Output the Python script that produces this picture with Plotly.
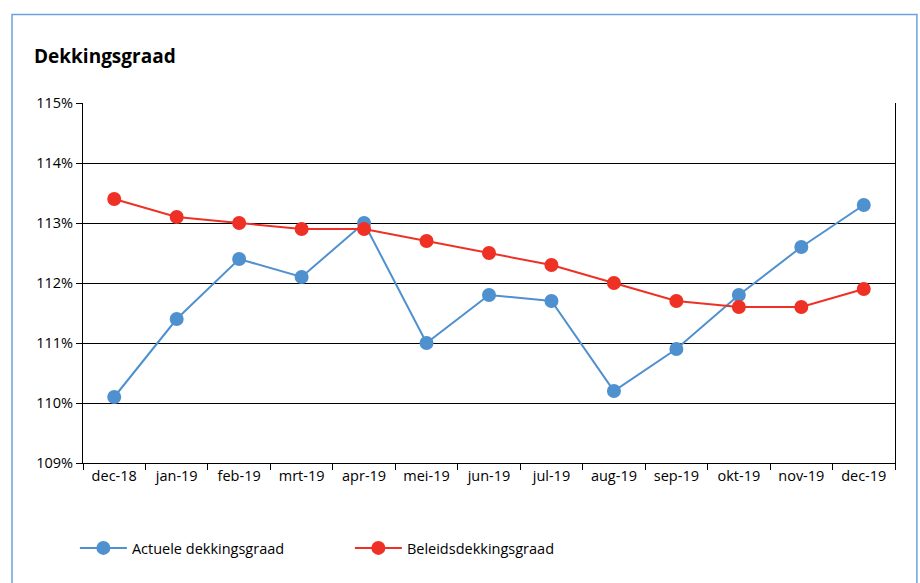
import plotly.graph_objects as go

months = ["dec-18", "jan-19", "feb-19", "mrt-19", "apr-19", "mei-19", "jun-19",
          "jul-19", "aug-19", "sep-19", "okt-19", "nov-19", "dec-19"]
actuele = [110.1, 111.4, 112.4, 112.1, 113.0, 111.0, 111.8, 111.7, 110.2, 110.9, 111.8, 112.6, 113.3]
beleids = [113.4, 113.1, 113.0, 112.9, 112.9, 112.7, 112.5, 112.3, 112.0, 111.7, 111.6, 111.6, 111.9]
y_ticks = [109, 110, 111, 112, 113, 114, 115]
y_labels = [f"{v}%" for v in y_ticks]

BLUE = "#4f90cf"
RED = "#ee3124"
FONT = "Open Sans, Noto Sans, sans-serif"

fig = go.Figure()
fig.add_trace(go.Scatter(x=months, y=actuele, name="Actuele dekkingsgraad",
                         mode="lines+markers", line=dict(color=BLUE, width=2),
                         marker=dict(color=BLUE, size=14)))
fig.add_trace(go.Scatter(x=months, y=beleids, name="Beleidsdekkingsgraad",
                         mode="lines+markers", line=dict(color=RED, width=2),
                         marker=dict(color=RED, size=14)))

fig.update_layout(
    width=920, height=583,
    margin=dict(l=83, r=25, t=103, b=120),
    paper_bgcolor="white", plot_bgcolor="white",
    font=dict(family=FONT, size=14.5, color="black"),
    showlegend=True,
    legend=dict(orientation="h", x=-0.010, y=-0.236, xanchor="left", yanchor="middle",
                entrywidth=213, entrywidthmode="pixels", itemwidth=47,
                font=dict(size=14.5)),
    annotations=[dict(text="<b>Dekkingsgraad</b>", xref="paper", yref="paper",
                      x=-0.063, y=1.131, xanchor="left", yanchor="middle",
                      showarrow=False, font=dict(size=19, color="black"))],
    shapes=[dict(type="rect", xref="paper", yref="paper",
                 x0=-0.0874, x1=1.027, y0=-0.4, y1=1.246,
                 line=dict(color="#6aa3db", width=1.5), layer="below")],
)
fig.update_xaxes(type="category", range=[-0.5, len(months) - 0.5], showgrid=False,
                 showline=True, linecolor="black",
                 linewidth=1, ticks="outside", tickson="boundaries", ticklen=6,
                 tickcolor="black", zeroline=False, mirror=False)
fig.update_yaxes(range=[109, 115], tickvals=y_ticks, ticktext=y_labels,
                 showgrid=True, gridcolor="black", gridwidth=1,
                 showline=True, linecolor="black", linewidth=1, mirror=True,
                 ticks="outside", ticklen=6, tickcolor="black", zeroline=False)

fig.write_html("out.html", config={"displayModeBar": False},
               post_script="document.body.style.margin='0';")
